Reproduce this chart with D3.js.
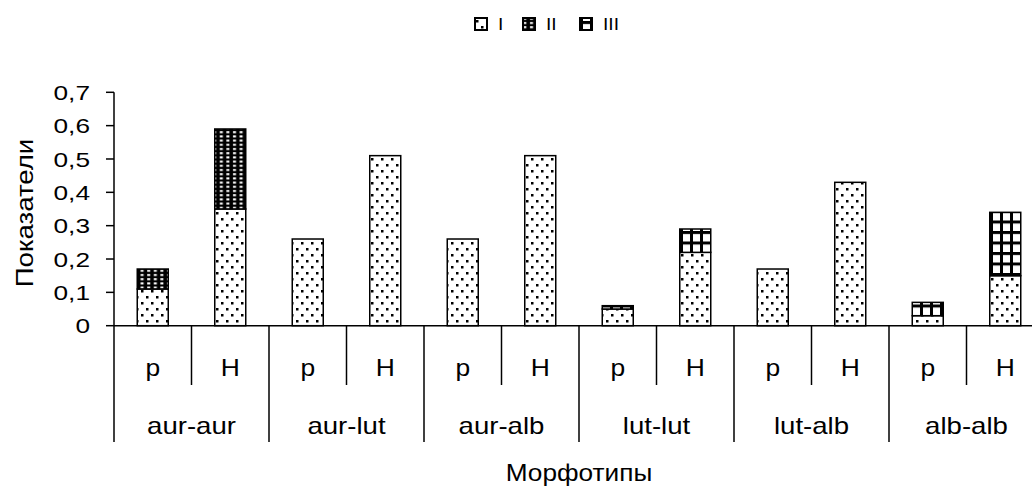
<!DOCTYPE html>
<html><head><meta charset="utf-8">
<script src="https://cdn.jsdelivr.net/npm/d3@7"></script>
<style>
html,body{margin:0;padding:0;background:#fff;}
svg{display:block;font-family:"Liberation Sans",Arial,sans-serif;}
</style></head>
<body><svg id="c" width="1032" height="489"></svg>
<script>
const groups = ["aur-aur","aur-lut","aur-alb","lut-lut","lut-alb","alb-alb"];
const subs = ["p","H"];
const seriesNames = ["I","II","III"];
const seriesI   = [0.11,0.35, 0.26,0.51, 0.26,0.51, 0.05,0.22, 0.17,0.43, 0.03,0.15];
const seriesII  = [0.06,0.24, 0,0,       0,0,       0,0,       0,0,       0,0];
const seriesIII = [0,0,       0,0,       0,0,       0.01,0.07, 0,0,       0.04,0.19];
const yTicks = [0,0.1,0.2,0.3,0.4,0.5,0.6,0.7];

const svg = d3.select("#c");
const defs = svg.append("defs");

function addText(parent, x, y, txt, size, sx, anchor, rot){
  const g = parent.append("g").attr("transform",`translate(${x},${y})` + (rot?` rotate(${rot})`:"") + ` scale(${sx},1)`);
  g.append("text").attr("text-anchor",anchor||"middle").attr("dy","0.36em")
    .attr("font-size",size).attr("fill","#000").text(txt);
  return g;
}

// Pattern I: sparse dots
const pI = defs.append("pattern").attr("id","pI").attr("patternUnits","userSpaceOnUse")
  .attr("width",10).attr("height",12);
pI.append("rect").attr("width",10).attr("height",12).attr("fill","#fff");
pI.append("rect").attr("x",1).attr("y",2).attr("width",2.5).attr("height",2.5).attr("fill","#000");
pI.append("rect").attr("x",6).attr("y",8).attr("width",2.5).attr("height",2.5).attr("fill","#000");

// Pattern II: black with white squares
const pII = defs.append("pattern").attr("id","pII").attr("patternUnits","userSpaceOnUse")
  .attr("width",6.6).attr("height",4.2);
pII.append("rect").attr("width",6.6).attr("height",4.2).attr("fill","#000");
pII.append("rect").attr("x",2).attr("y",1).attr("width",3).attr("height",2).attr("fill","#fff");

// Pattern III: thick grid
const pIII = defs.append("pattern").attr("id","pIII").attr("patternUnits","userSpaceOnUse")
  .attr("width",10).attr("height",10.5);
pIII.append("rect").attr("width",10).attr("height",10.5).attr("fill","#fff");
pIII.append("rect").attr("x",0).attr("y",0).attr("width",10).attr("height",3).attr("fill","#000");
pIII.append("rect").attr("x",0).attr("y",0).attr("width",3).attr("height",10.5).attr("fill","#000");

const fills = ["url(#pI)","url(#pII)","url(#pIII)"];

const left = 114, right = 1044, y0 = 325.7, yTop = 92.3;
const y = d3.scaleLinear().domain([0,0.7]).range([y0,yTop]);
const xg = d3.scaleBand().domain(groups).range([left,right]);
const xs = d3.scaleBand().domain(subs).range([0,xg.bandwidth()]);
const barW = xs.bandwidth()*0.4;

// stacked data
const rows = [];
groups.forEach((g,gi)=>subs.forEach((s,si)=>{
  const i = gi*2+si;
  rows.push({g,s,I:seriesI[i],II:seriesII[i],III:seriesIII[i]});
}));
const stack = d3.stack().keys(seriesNames)(rows);

const barsG = svg.append("g");
stack.forEach((layer,li)=>{
  barsG.selectAll(null).data(layer.filter(d=>d[1]-d[0]>0)).enter().append("rect")
    .attr("x",d=>xg(d.data.g)+xs(d.data.s)+xs.bandwidth()/2-barW/2)
    .attr("width",barW)
    .attr("y",d=>y(d[1]))
    .attr("height",d=>y(d[0])-y(d[1]))
    .attr("fill",fills[li])
    .attr("stroke","#000").attr("stroke-width",1.5);
});

// Y axis
const ya = svg.append("g");
ya.append("line").attr("x1",left).attr("x2",left).attr("y1",yTop).attr("y2",y0).attr("stroke","#000").attr("stroke-width",1.5);
yTicks.forEach(t=>{
  ya.append("line").attr("x1",left-8).attr("x2",left).attr("y1",y(t)).attr("y2",y(t)).attr("stroke","#000").attr("stroke-width",1.5);
  addText(ya, 90, y(t), String(t).replace(".",","), 21, 1.25, "end");
});
addText(svg, 25, 213, "Показатели", 23, 1.2, "middle", -90);

// X axis
const xa = svg.append("g");
xa.append("line").attr("x1",left).attr("x2",right).attr("y1",y0).attr("y2",y0).attr("stroke","#000").attr("stroke-width",1.5);
groups.forEach(g=>{
  const gx = xg(g);
  xa.append("line").attr("x1",gx).attr("x2",gx).attr("y1",y0).attr("y2",442).attr("stroke","#000").attr("stroke-width",1.5);
  xa.append("line").attr("x1",gx+xs("H")).attr("x2",gx+xs("H")).attr("y1",y0).attr("y2",385).attr("stroke","#000").attr("stroke-width",1.5);
  subs.forEach(s=>{
    addText(xa, gx+xs(s)+xs.bandwidth()/2, 368, s, 23, 1.15, "middle");
  });
  addText(xa, gx+xg.bandwidth()/2, 426, g, 23, 1.2, "middle");
});
xa.append("line").attr("x1",right).attr("x2",right).attr("y1",y0).attr("y2",442).attr("stroke","#000").attr("stroke-width",1.5);
addText(svg, (left+right)/2, 473, "Морфотипы", 23, 1.14, "middle");

// Legend
const legX = [475,523,580];
const lg = svg.append("g");
seriesNames.forEach((n,i)=>{
  lg.append("rect").attr("x",legX[i]).attr("y",18).attr("width",12).attr("height",12)
    .attr("fill",fills[i]).attr("stroke","#000").attr("stroke-width",2);
  addText(lg, legX[i]+23, 24, n, 16, 1.2, "start");
});
</script></body></html>
